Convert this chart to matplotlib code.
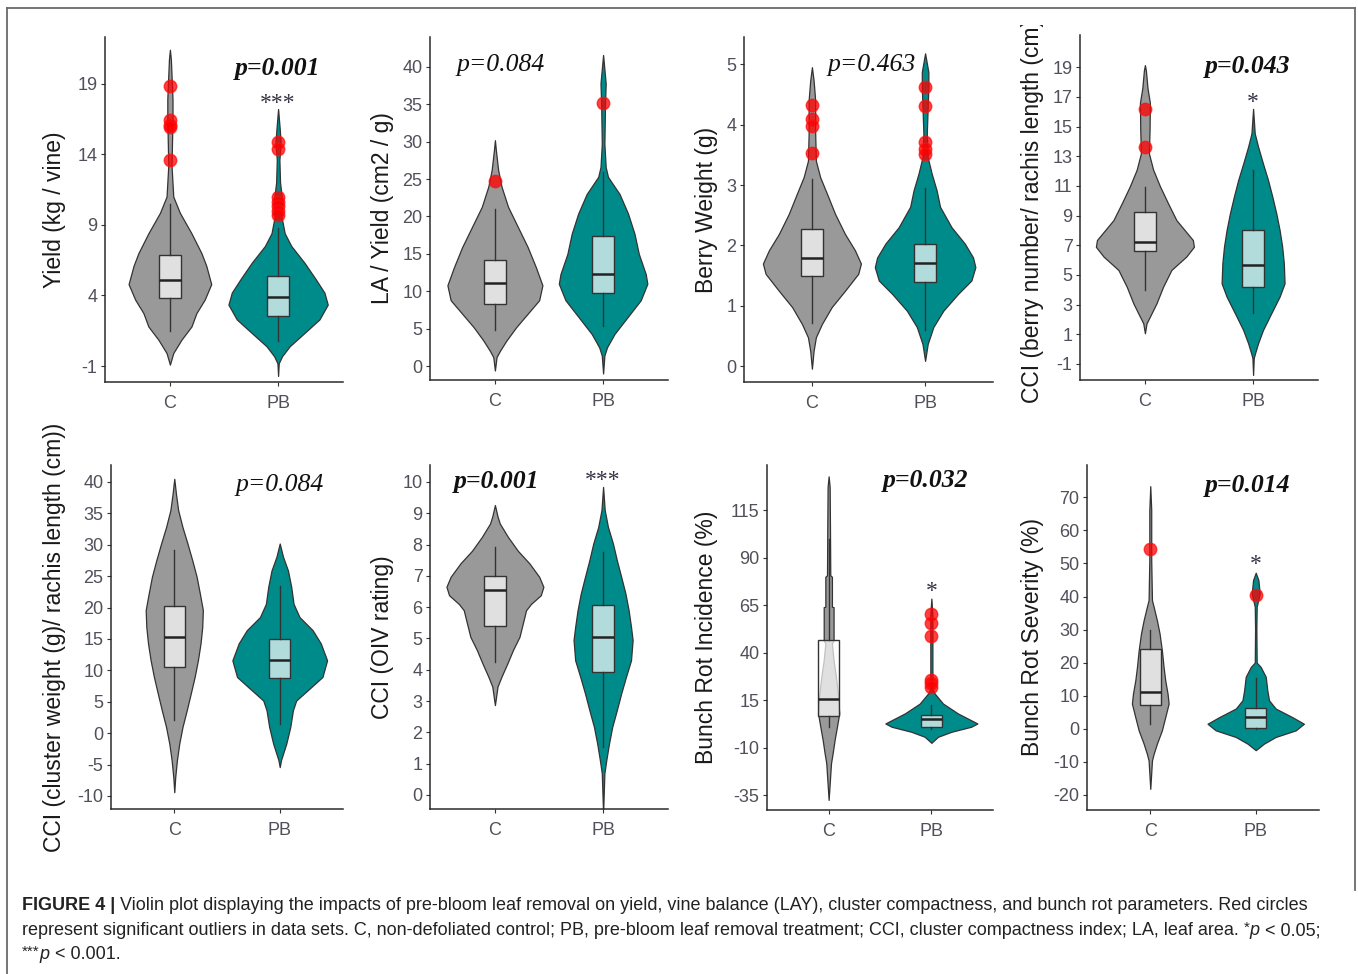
import matplotlib
matplotlib.use('Agg')
import matplotlib.pyplot as plt
from matplotlib.transforms import Bbox, TransformedBbox, offset_copy
from matplotlib.lines import Line2D

plt.rcParams['axes.unicode_minus'] = False

W, H = 1358, 974
groups = ['C', 'PB']

# ---------------- data ----------------
# violin profiles: y values and half-widths (in category units); box = [q1, median, q3, whisker_lo, whisker_hi]
yield_c_y = [21.4, 20.7, 17.9, 16.5, 13.2, 11.0, 9.85, 8.4, 7.0, 6.1, 4.8, 3.7, 2.75, 1.8, 0.87, -0.08, -0.9]
yield_c_w = [0, .009, .024, .024, .015, .031, .092, .199, .291, .336, .382, .321, .245, .199, .107, .031, 0]
yield_pb_y = [17.2, 15.8, 14.8, 13.6, 12.0, 10.8, 9.6, 8.4, 7.5, 6.3, 5.1, 4.2, 3.35, 2.3, 1.35, 0.4, -0.3, -0.8, -1.7]
yield_pb_w = [0, .015, .024, .012, .018, .037, .031, .061, .122, .245, .352, .428, .459, .382, .245, .107, .037, .006, 0]
yield_c_box = [3.82, 5.12, 6.85, 1.5, 10.5]
yield_pb_box = [2.57, 3.87, 5.36, 0.75, 8.8]
yield_c_out = [18.8, 16.4, 16.1, 15.9, 13.6]
yield_pb_out = [14.9, 14.4, 11.0, 10.6, 10.3, 10.0, 9.7]

lay_c_y = [30.2, 28.85, 26.2, 24.0, 21.3, 18.6, 15.9, 13.2, 10.8, 8.8, 7.0, 5.2, 3.4, 2.0, 1.2, -0.6]
lay_c_w = [0, .009, .03, .061, .121, .212, .303, .379, .439, .409, .303, .197, .106, .045, .015, 0]
lay_pb_y = [41.6, 37.8, 35.1, 32.4, 29.7, 26.6, 25.3, 23.0, 20.4, 17.7, 15.0, 12.3, 11.0, 8.8, 6.55, 4.3, 2.5, 1.4, -1.0]
lay_pb_w = [0, .024, .018, .015, .012, .024, .045, .152, .23, .29, .33, .394, .409, .348, .227, .106, .036, .012, 0]
lay_c_box = [8.35, 11.15, 14.2, 4.8, 21.0]
lay_pb_box = [9.8, 12.25, 17.4, 5.4, 26.0]
lay_c_out = [24.8]
lay_pb_out = [35.2]

berry_c_y = [4.95, 4.73, 4.4, 3.85, 3.4, 3.13, 2.86, 2.52, 2.19, 1.92, 1.7, 1.53, 1.25, 0.98, 0.7, 0.48, 0.26, -0.04]
berry_c_w = [0, .015, .029, .029, .035, .073, .132, .205, .292, .38, .433, .409, .292, .175, .088, .035, .015, 0]
berry_pb_y = [5.18, 4.87, 4.62, 4.29, 3.85, 3.46, 3.19, 2.91, 2.64, 2.3, 2.03, 1.8, 1.64, 1.42, 1.2, 0.92, 0.65, 0.37, 0.09]
berry_pb_w = [0, .029, .029, .023, .015, .023, .058, .102, .132, .234, .351, .424, .444, .409, .292, .161, .073, .023, 0]
berry_c_box = [1.49, 1.79, 2.27, 0.72, 3.1]
berry_pb_box = [1.39, 1.71, 2.02, 0.6, 2.95]
berry_c_out = [4.33, 4.1, 3.97, 3.53]
berry_pb_out = [4.62, 4.3, 3.72, 3.6, 3.52]

ccin_c_y = [19.15, 18.8, 17.6, 16.6, 14.8, 13.2, 12.1, 11.0, 9.83, 8.7, 8.03, 7.36, 6.9, 6.24, 5.34, 4.21, 3.09, 2.19, 1.74, 1.07]
ccin_c_w = [0, .009, .024, .046, .043, .037, .076, .138, .214, .291, .367, .443, .453, .382, .245, .168, .107, .046, .015, 0]
ccin_pb_y = [16.2, 14.55, 13.65, 12.5, 11.4, 10.3, 9.16, 8.03, 6.9, 5.79, 4.44, 3.54, 2.42, 1.3, 0.4, -0.28, -0.6, -1.74]
ccin_pb_w = [0, .015, .046, .092, .138, .177, .214, .245, .269, .284, .291, .245, .168, .092, .046, .018, .006, 0]
ccin_c_box = [6.64, 7.25, 9.27, 3.99, 10.96]
ccin_pb_box = [4.17, 5.67, 8.03, 2.42, 12.08]
ccin_c_out = [16.2, 13.6]
ccin_pb_out = []

cciw_c_y = [40.5, 38.1, 35.5, 32.8, 30.2, 27.5, 24.9, 22.2, 19.6, 16.9, 14.3, 11.6, 8.95, 6.3, 3.64, 1.0, -1.67, -4.3, -7.0, -9.4]
cciw_c_w = [0, .016, .037, .078, .125, .171, .212, .243, .271, .265, .249, .224, .193, .156, .118, .078, .047, .025, .009, 0]
cciw_pb_y = [30.2, 28.1, 25.9, 23.3, 20.6, 18.5, 16.4, 14.3, 11.6, 8.95, 7.3, 5.2, 3.64, 1.0, -1.67, -3.3, -4.3, -5.4]
cciw_pb_w = [0, .031, .078, .109, .131, .187, .312, .389, .449, .405, .296, .156, .125, .1, .062, .031, .012, 0]
cciw_c_box = [10.5, 15.3, 20.25, 2.05, 29.1]
cciw_pb_box = [8.8, 11.7, 14.95, 1.5, 23.4]
cciw_c_out = []
cciw_pb_out = []

oiv_c_y = [9.26, 8.9, 8.67, 8.24, 7.8, 7.4, 6.97, 6.65, 6.38, 6.1, 5.9, 5.48, 5.05, 4.63, 4.2, 3.78, 3.46, 2.87]
oiv_c_w = [0, .024, .045, .121, .212, .318, .409, .448, .424, .333, .288, .258, .227, .167, .115, .061, .024, 0]
oiv_pb_y = [9.84, 9.1, 8.56, 8.03, 7.5, 6.97, 6.44, 5.9, 5.37, 4.95, 4.3, 3.78, 3.24, 2.71, 2.18, 1.65, 1.12, 0.69, -0.6]
oiv_pb_w = [0, .015, .045, .091, .127, .167, .206, .236, .258, .273, .258, .212, .167, .127, .085, .055, .03, .012, 0]
oiv_c_box = [5.4, 6.54, 7.0, 4.26, 7.93]
oiv_pb_box = [3.94, 5.05, 6.06, 1.54, 7.77]
oiv_c_out = []
oiv_pb_out = []

inc_c_y = [132.9, 127.3, 106, 80.8, 80.0, 64.2, 64.0, 46.6, 44.8, 36, 27.3, 18.5, 8, 1.0, -6, -13, -18.3, -37.6]
inc_c_w = [0, .01, .013, .016, .032, .032, .048, .048, .032, .048, .071, .09, .103, .081, .058, .039, .023, 0]
inc_pb_y = [68.5, 60, 30, 20.5, 18.5, 13.2, 8.0, 2.7, 0.96, -1.7, -4.3, -7.5]
inc_pb_w = [0, .01, .01, .013, .032, .113, .258, .448, .387, .194, .065, 0]
inc_c_box = [6.6, 15.35, 46.6, 0.9, 100]
inc_pb_box = [0.96, 4.8, 7.1, 0.0, 12.4]
inc_c_out = []
inc_pb_out = [60.3, 55.7, 48.7, 25.5, 23.8, 22.0]

sev_c_y = [73.4, 66.2, 51, 38.9, 36.9, 32.8, 28.8, 23.7, 18.7, 14.6, 10.6, 7.6, 3.5, -0.5, -4.5, -7.6, -9.6, -18.2]
sev_c_w = [0, .009, .009, .016, .032, .063, .088, .11, .126, .142, .164, .174, .142, .11, .063, .032, .016, 0]
sev_pb_y = [47.2, 45, 40.9, 36.9, 30, 20, 18.7, 15.7, 11.6, 8.6, 6.1, 3.5, 1.5, -0.5, -2.5, -4.5, -6.5]
sev_pb_w = [0, .025, .038, .009, .006, .009, .047, .095, .11, .126, .189, .347, .457, .379, .189, .079, 0]
sev_c_box = [7.07, 11.1, 24.0, 1.5, 29.8]
sev_pb_box = [0.2, 3.5, 6.4, 0.0, 15.2]
sev_c_out = [54.5]
sev_pb_out = [40.6]

ylabels = ['Yield (kg / vine)', 'LA / Yield (cm2 / g)', 'Berry Weight (g)',
           'CCI (berry number/ rachis length (cm))',
           'CCI (cluster weight (g)/ rachis length (cm))', 'CCI (OIV rating)',
           'Bunch Rot Incidence (%)', 'Bunch Rot Severity (%)']
yticks = [[-1, 4, 9, 14, 19], list(range(0, 41, 5)), [0, 1, 2, 3, 4, 5],
          list(range(-1, 20, 2)), list(range(-10, 41, 5)), list(range(0, 11)),
          list(range(-35, 116, 25)), list(range(-20, 71, 10))]
pvalues = ['p=0.001', 'p=0.084', 'p=0.463', 'p=0.043', 'p=0.084', 'p=0.001', 'p=0.032', 'p=0.014']
p_bold = [True, False, False, True, False, True, True, True]
signif = ['***', '', '', '*', '', '***', '*', '*']

panels = [
    (yield_c_y, yield_c_w, yield_pb_y, yield_pb_w, yield_c_box, yield_pb_box, yield_c_out, yield_pb_out),
    (lay_c_y, lay_c_w, lay_pb_y, lay_pb_w, lay_c_box, lay_pb_box, lay_c_out, lay_pb_out),
    (berry_c_y, berry_c_w, berry_pb_y, berry_pb_w, berry_c_box, berry_pb_box, berry_c_out, berry_pb_out),
    (ccin_c_y, ccin_c_w, ccin_pb_y, ccin_pb_w, ccin_c_box, ccin_pb_box, ccin_c_out, ccin_pb_out),
    (cciw_c_y, cciw_c_w, cciw_pb_y, cciw_pb_w, cciw_c_box, cciw_pb_box, cciw_c_out, cciw_pb_out),
    (oiv_c_y, oiv_c_w, oiv_pb_y, oiv_pb_w, oiv_c_box, oiv_pb_box, oiv_c_out, oiv_pb_out),
    (inc_c_y, inc_c_w, inc_pb_y, inc_pb_w, inc_c_box, inc_pb_box, inc_c_out, inc_pb_out),
    (sev_c_y, sev_c_w, sev_pb_y, sev_pb_w, sev_c_box, sev_pb_box, sev_c_out, sev_pb_out),
]

# ---------------- layout (pixels) ----------------
axes_px = [(105, 343, 37, 382), (430, 668, 37, 380), (744, 993, 37, 382), (1080, 1318, 35, 380),
           (111, 343, 465, 809), (430, 668, 465, 809), (767, 993, 465, 810), (1087, 1319, 465, 810)]
ylims = [(-2.13, 22.3), (-1.87, 44), (-0.26, 5.45), (-2.08, 21.18),
         (-12.07, 42.7), (-0.45, 10.54), (-42.9, 138.9), (-24.6, 79.8)]
ylabel_px = [(55, 210), (383, 208), (706, 210), (1032, 207),
             (55, 637), (382, 637), (707, 637), (1032, 637)]
p_pos = [(2.0, 20.1), (1.05, 40.2), (1.53, 4.98), (1.95, 19.05),
         (2.0, 39.5), (1.02, 10.02), (1.94, 130.8), (1.92, 73.7)]
sig_pos = [(2.0, 17.9), None, None, (2.0, 16.9), None, (2.0, 10.16), (2.0, 74.6), (2.0, 51.0)]

fill_colors = ['#999999', '#008B8B']
edge = '#333333'
sans = 'Liberation Sans'
serif = 'Liberation Serif'

fig = plt.figure(figsize=(W / 100, H / 100), dpi=100)
fig.patch.set_facecolor('white')

for i, (cy, cw, py, pw, cbox, pbox, cout, pout) in enumerate(panels):
    L, R, T, B = axes_px[i]
    ax = fig.add_axes([L / W, 1 - B / H, (R - L) / W, (B - T) / H])
    ax.set_xlim(0.4, 2.6)
    ax.set_ylim(*ylims[i])
    for pos, ys, ws, col in ((1, cy, cw, fill_colors[0]), (2, py, pw, fill_colors[1])):
        ax.fill_betweenx(ys, [pos - w for w in ws], [pos + w for w in ws],
                         facecolor=col, edgecolor=edge, linewidth=0.9, zorder=2)
    stats = []
    for g, b, o in ((groups[0], cbox, cout), (groups[1], pbox, pout)):
        stats.append(dict(q1=b[0], med=b[1], q3=b[2], whislo=b[3], whishi=b[4], fliers=o, label=g))
    ax.bxp(stats, positions=[1, 2], widths=0.2, patch_artist=True, showcaps=False,
           manage_ticks=False, zorder=3,
           boxprops=dict(facecolor=(1, 1, 1, 0.7), edgecolor=edge, linewidth=1.0),
           whiskerprops=dict(color=edge, linewidth=1.0),
           medianprops=dict(color='#222222', linewidth=1.8),
           flierprops=dict(marker='o', markerfacecolor='#FF0000', markeredgecolor='#FF1010',
                           markersize=9, alpha=0.75, linestyle='none'))
    ax.set_xticks([1, 2])
    ax.set_xticklabels(groups)
    ax.set_yticks(yticks[i])
    for s in ('top', 'right'):
        ax.spines[s].set_visible(False)
    for s in ('left', 'bottom'):
        ax.spines[s].set_color('#2b2b2b')
        ax.spines[s].set_linewidth(1.1)
    ax.tick_params(axis='both', length=3.2, width=0.8, color='#333333',
                   labelsize=13, labelcolor='#50505a')
    ax.tick_params(axis='x', pad=6)
    ax.tick_params(axis='y', pad=2.2)
    for lab in ax.get_xticklabels() + ax.get_yticklabels():
        lab.set_family(sans)
    ax.patch.set_alpha(0)
    # p-value
    px, py_ = p_pos[i]
    ax.text(px, py_, pvalues[i], ha='center', va='center', family=serif, style='italic',
            weight='bold' if p_bold[i] else 'normal', fontsize=18.5, color='#111111', zorder=5)
    if sig_pos[i] is not None:
        tr = offset_copy(ax.transData, fig=fig, x=0, y=-4, units='dots')
        ax.text(sig_pos[i][0], sig_pos[i][1], signif[i], ha='center', va='center',
                family=serif, fontsize=17, color='#333344', zorder=5, transform=tr)
    # y label
    lx, ly = ylabel_px[i]
    t = fig.text(lx / W, 1 - ly / H, ylabels[i], rotation=90, ha='center', va='center',
                 family=sans, fontsize=16.5, color='#1a1a1a')
    if i == 3:
        t.set_clip_box(TransformedBbox(Bbox([[0, 0], [1, 1 - 25 / H]]), fig.transFigure))
        t.set_clip_on(True)

# frame around figure
fc = '#6a6a6a'
fig.add_artist(Line2D([7 / W, 7 / W], [0, 1 - 8 / H], transform=fig.transFigure, color=fc, lw=1.3))
fig.add_artist(Line2D([7 / W, 1355 / W], [1 - 8 / H, 1 - 8 / H], transform=fig.transFigure, color=fc, lw=1.3))
fig.add_artist(Line2D([1355 / W, 1355 / W], [1 - 8 / H, 1 - 890 / H], transform=fig.transFigure, color=fc, lw=1.3))

# caption
renderer = fig.canvas.get_renderer()

def run_width(text, size, **kw):
    a = fig.text(0, 0, '|' + text + '|', fontsize=size, family=sans, **kw)
    b = fig.text(0, 0, '||', fontsize=size, family=sans, **kw)
    w = a.get_window_extent(renderer).width - b.get_window_extent(renderer).width
    a.remove(); b.remove()
    return w

cap1 = [('FIGURE 4 | ', dict(weight='bold')),
        ('Violin plot displaying the impacts of pre-bloom leaf removal on yield, vine balance (LAY), '
         'cluster compactness, and bunch rot parameters. Red circles', {})]
cap2 = [('represent significant outliers in data sets. C, non-defoliated control; PB, pre-bloom leaf '
         'removal treatment; CCI, cluster compactness index; LA, leaf area. ', {}),
        ('*', dict(sup=True)), ('p', dict(style='italic')), (' < 0.05;', {})]
cap3 = [('***', dict(sup=True)), ('p', dict(style='italic')), (' < 0.001.', {})]

base = 12.0
w1 = sum(run_width(t, base, **{k: v for k, v in kw.items() if k != 'sup'}) for t, kw in cap1)
size = base * (1310 - 22) / w1

def draw_line(runs, x0, y_base):
    x = x0
    for text, kw in runs:
        kw = dict(kw)
        sup = kw.pop('sup', False)
        sz = size * 0.85 if sup else size
        yb = y_base - (3 if sup else 0)
        fig.text(x / W, 1 - yb / H, text, fontsize=sz, family=sans, color='#222222',
                 ha='left', va='baseline', **kw)
        x += run_width(text, sz, **kw)

draw_line(cap1, 22, 910)
draw_line(cap2, 22, 935)
draw_line(cap3, 22, 959)

fig.savefig('out.png', dpi=100, facecolor='white')
